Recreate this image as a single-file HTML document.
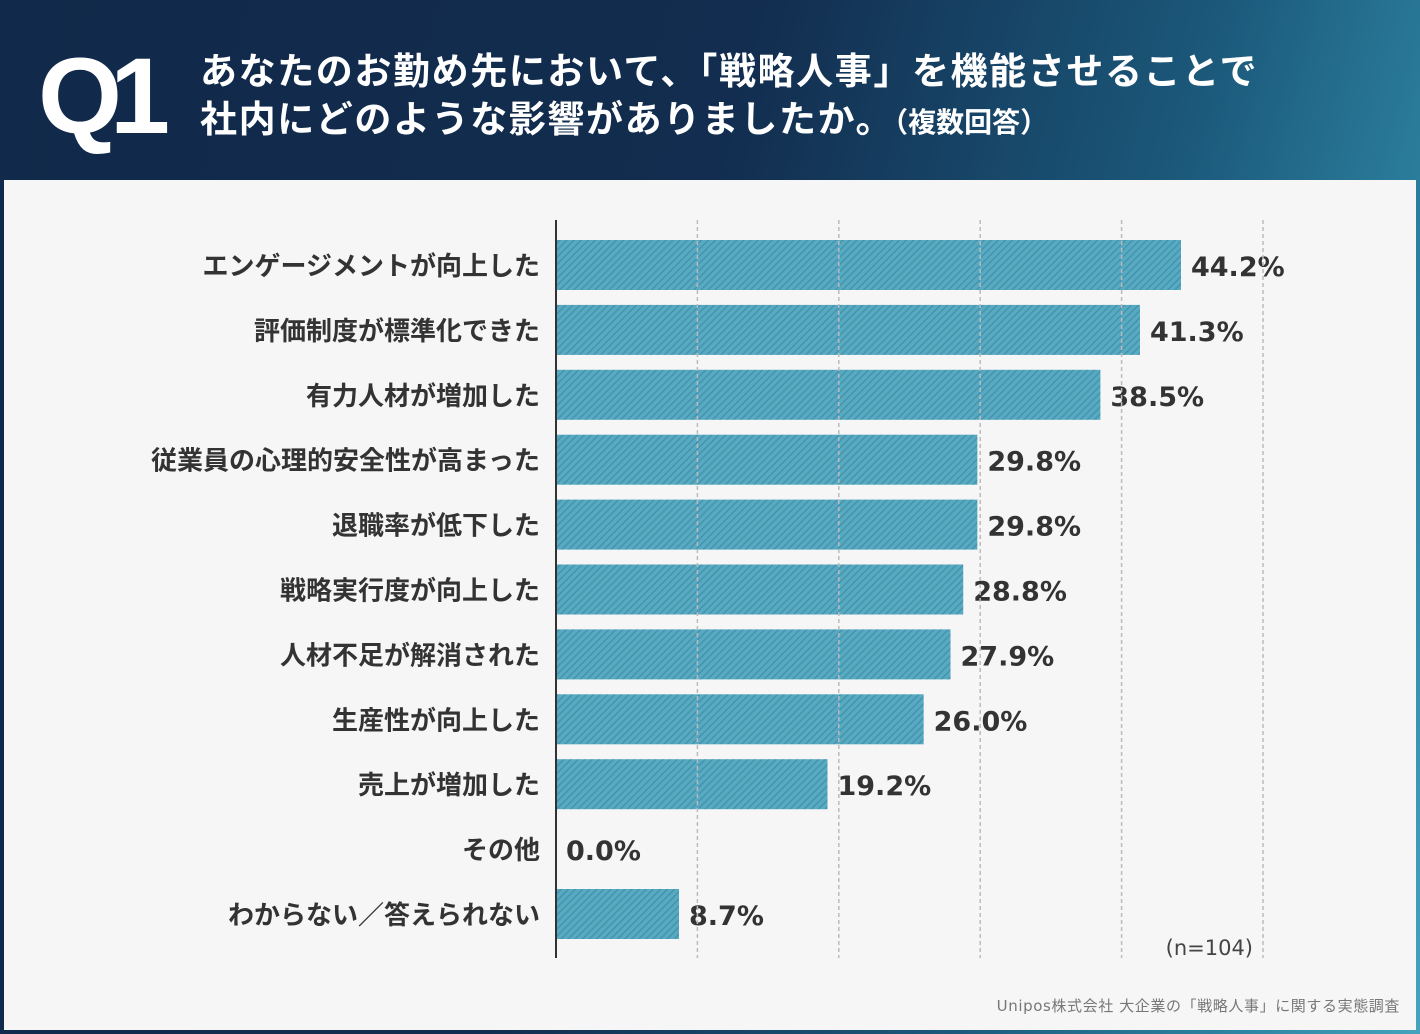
<!DOCTYPE html>
<html><head><meta charset="utf-8">
<style>
html,body{margin:0;padding:0;}
body{width:1420px;height:1034px;position:relative;overflow:hidden;font-family:"Liberation Sans","Noto Sans CJK JP",sans-serif;
background:linear-gradient(105deg,#11294a 0%,#122d4f 45%,#1b587a 72%,#2f86a4 90%,#45a3bd 100%);}
#header{position:absolute;left:0;top:0;width:1420px;height:180px;}
#q1{position:absolute;left:38px;top:40px;font-size:108px;font-weight:bold;color:#fff;letter-spacing:-12px;line-height:112px;font-family:"Liberation Sans",sans-serif;}
#title{position:absolute;left:200px;top:44px;color:#fff;font-weight:bold;font-size:37px;letter-spacing:1.6px;line-height:48px;font-family:"Noto Sans CJK JP",sans-serif;}
#title small{font-size:28px;font-weight:bold;letter-spacing:0;}
#panel{position:absolute;left:4px;top:180px;width:1412px;height:850px;background:#f6f6f6;}
svg{position:absolute;left:0;top:0;}
</style></head><body>
<div id="header">
<div id="q1">Q1</div>
<div id="title">あなたのお勤め先において、「戦略人事」を機能させることで<br>社内にどのような影響がありましたか。<small>（複数回答）</small></div>
</div>
<div id="panel"></div>
<svg id="chart" width="1420" height="1034">
<defs>
<pattern id="hatch" patternUnits="userSpaceOnUse" width="5" height="5" patternTransform="rotate(45)">
<rect width="5" height="5" fill="#58aac2"/>
<rect width="1.4" height="5" fill="#4392ab"/>
</pattern>
</defs>
</svg>
<script>
const categories=["エンゲージメントが向上した","評価制度が標準化できた","有力人材が増加した","従業員の心理的安全性が高まった","退職率が低下した","戦略実行度が向上した","人材不足が解消された","生産性が向上した","売上が増加した","その他","わからない／答えられない"];
const values=[44.2,41.3,38.5,29.8,29.8,28.8,27.9,26.0,19.2,0.0,8.7];
const gridTicks=[10,20,30,40,50];
const svg=document.getElementById('chart');
const NS='http://www.w3.org/2000/svg';
const x0=556,pxPer=14.14,yTop=265,step=64.9,barH=50;
const xs=v=>x0+v*pxPer;
const yc=i=>yTop+i*step;
function mk(t,a){const e=document.createElementNS(NS,t);for(const k in a)e.setAttribute(k,a[k]);svg.appendChild(e);return e;}
categories.forEach((c,i)=>{
 const w=xs(values[i])-x0;
 if(w>0){const r=mk('rect',{x:x0,y:yc(i)-barH/2,width:w,height:barH,fill:'url(#hatch)'});
 
 }
 const l=mk('text',{x:540,y:yc(i)+10,'text-anchor':'end','font-size':26,'font-weight':'bold',fill:'#333','font-family':'"Noto Sans CJK JP",sans-serif'});
 l.textContent=c;
 
 
 const v=mk('text',{x:xs(values[i])+10,y:yc(i)+11,'font-size':27,'font-weight':'bold',fill:'#333','font-family':'"DejaVu Sans",sans-serif'});
 v.textContent=values[i].toFixed(1)+'%';
 
 
});
gridTicks.forEach(t=>{
 const g=mk('line',{x1:xs(t),x2:xs(t),y1:220,y2:958,stroke:'#bbb','stroke-width':1.5,'stroke-dasharray':'4,3'});
 
 
});
const ax=mk('line',{x1:x0,x2:x0,y1:220,y2:958,stroke:'#333','stroke-width':2});


const n=mk('text',{x:1253,y:955,'text-anchor':'end','font-size':21,fill:'#444','font-family':'"DejaVu Sans",sans-serif'});
n.textContent='(n=104)';


const s=mk('text',{x:1400,y:1011,'text-anchor':'end','font-size':15,fill:'#777','letter-spacing':'0.6','font-family':'"DejaVu Sans","Noto Sans CJK JP",sans-serif'});
s.textContent='Unipos株式会社 大企業の「戦略人事」に関する実態調査';


</script>
</body></html>
